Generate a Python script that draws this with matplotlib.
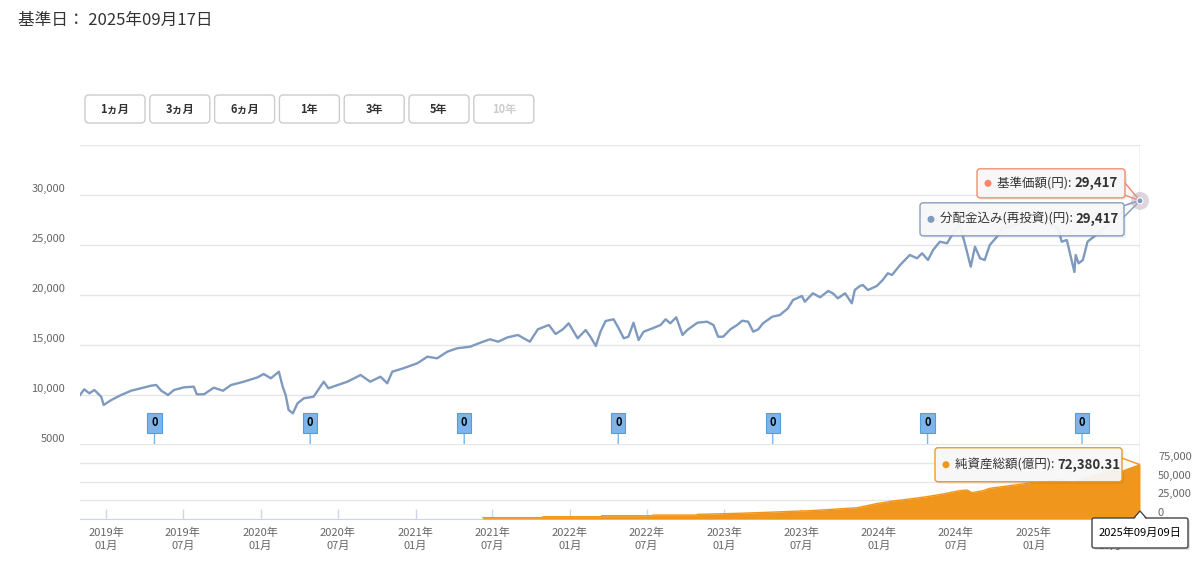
import matplotlib
matplotlib.use("Agg")
import matplotlib.pyplot as plt
import matplotlib.transforms as mtransforms
import matplotlib.dates as mdates
from matplotlib.patches import FancyBboxPatch, Polygon, Circle
from matplotlib.text import Annotation
import pandas as pd

plt.rcParams['font.family'] = ['Noto Sans CJK JP', 'DejaVu Sans']

# ---------------- data ----------------
base_date_text = "基準日： 2025年09月17日"
range_buttons = ["1ヵ月", "3ヵ月", "6ヵ月", "1年", "3年", "5年", "10年"]

nav_dates = [
    "2018-10-31", "2018-11-10", "2018-11-22", "2018-12-04", "2018-12-20", "2018-12-26",
    "2019-01-13", "2019-02-05", "2019-03-01", "2019-03-24", "2019-04-17", "2019-04-29",
    "2019-05-11", "2019-05-27", "2019-06-10", "2019-07-04", "2019-07-27", "2019-08-03",
    "2019-08-20", "2019-09-12", "2019-10-04", "2019-10-23", "2019-11-22", "2019-12-25",
    "2020-01-08", "2020-01-25", "2020-02-13", "2020-02-22", "2020-02-29", "2020-03-07",
    "2020-03-17", "2020-03-28", "2020-04-12", "2020-05-05", "2020-05-29", "2020-06-09",
    "2020-07-01", "2020-07-24", "2020-08-24", "2020-09-16", "2020-10-10", "2020-10-26",
    "2020-11-07", "2020-12-03", "2021-01-05", "2021-01-29", "2021-02-21", "2021-03-17",
    "2021-04-09", "2021-05-10", "2021-06-03", "2021-06-26",
    "2021-07-15", "2021-08-07", "2021-08-31", "2021-09-14", "2021-09-28", "2021-10-17",
    "2021-11-12", "2021-11-28", "2021-12-15", "2021-12-29", "2022-01-19", "2022-02-07",
    "2022-02-19", "2022-03-03", "2022-03-14", "2022-03-26", "2022-04-14", "2022-04-26",
    "2022-05-08", "2022-05-19", "2022-05-31", "2022-06-12", "2022-06-24", "2022-07-15",
    "2022-08-03", "2022-08-15", "2022-08-26", "2022-09-09", "2022-09-24", "2022-10-05",
    "2022-10-29", "2022-11-21", "2022-12-06", "2022-12-17", "2022-12-29", "2023-01-15",
    "2023-01-31", "2023-02-12", "2023-02-26", "2023-03-10", "2023-03-22", "2023-04-02",
    "2023-04-24", "2023-05-12", "2023-05-31", "2023-06-12", "2023-07-03", "2023-07-10",
    "2023-07-29", "2023-08-15", "2023-09-03", "2023-09-14", "2023-09-26", "2023-10-13",
    "2023-10-29", "2023-11-05", "2023-11-17", "2023-11-24", "2023-12-06", "2023-12-27",
    "2024-01-10", "2024-01-22", "2024-02-01", "2024-02-20", "2024-03-14", "2024-03-31",
    "2024-04-12", "2024-04-26", "2024-05-08", "2024-05-24", "2024-06-10", "2024-06-24",
    "2024-07-10", "2024-07-22", "2024-08-05", "2024-08-15", "2024-08-27", "2024-09-07",
    "2024-09-19", "2024-10-06", "2024-10-18", "2024-11-06", "2024-11-29", "2024-12-23",
    "2025-01-15", "2025-02-08", "2025-02-27", "2025-03-08", "2025-03-20", "2025-04-07",
    "2025-04-10", "2025-04-17", "2025-04-27", "2025-05-08", "2025-05-23", "2025-06-15",
    "2025-07-09", "2025-07-25", "2025-08-11", "2025-08-25", "2025-09-09",
]
nav_values = [
    10000, 10570, 10170, 10500, 9830, 9000,
    9500, 10000, 10430, 10670, 10930, 11000,
    10430, 10000, 10500, 10770, 10830, 10070,
    10070, 10730, 10430, 11000, 11330, 11770,
    12100, 11670, 12330, 10830, 10000, 8500,
    8170, 9170, 9670, 9830, 11330, 10670,
    11000, 11330, 12000, 11330, 11830, 11170,
    12330, 12670, 13170, 13830, 13670, 14330,
    14670, 14830, 15230, 15570,
    15330, 15770, 16000, 15670, 15330, 16570,
    17000, 16100, 16570, 17170, 15670, 16500,
    15770, 14900, 16330, 17400, 17570, 16670,
    15670, 15830, 17230, 15500, 16330, 16670,
    17000, 17570, 17170, 17770, 16000, 16500,
    17230, 17330, 17000, 15830, 15830, 16570,
    17000, 17430, 17330, 16330, 16570, 17170,
    17830, 18000, 18670, 19500, 19900, 19330,
    20170, 19770, 20400, 20170, 19670, 20170,
    19170, 20500, 20900, 21000, 20500, 20900,
    21500, 22170, 22000, 23000, 24000, 23670,
    24170, 23500, 24500, 25330, 25170, 26170,
    27000, 25170, 22830, 24830, 23670, 23500,
    25000, 25830, 26670, 26830, 27170, 27330,
    27500, 27170, 26670, 25330, 25500, 22300,
    24000, 23170, 23500, 25330, 25830, 26670,
    27500, 28170, 29000, 29230, 29417,
]

asset_dates = [
    "2021-06-09", "2021-10-28", "2021-10-29", "2022-03-16", "2022-03-17",
    "2022-07-15", "2022-07-16", "2022-10-27", "2022-10-28", "2023-01-30",
    "2023-04-11", "2023-07-29", "2023-11-10", "2023-12-30", "2024-02-03",
    "2024-03-14", "2024-04-23", "2024-05-31", "2024-07-10", "2024-07-27",
    "2024-08-08", "2024-09-03", "2024-09-19", "2024-10-29", "2024-12-06",
    "2025-01-08", "2025-03-04", "2025-04-08", "2025-04-20", "2025-06-06",
    "2025-07-30", "2025-09-09",
]
asset_values = [
    1800, 1800, 3100, 3100, 4400,
    4400, 5300, 5300, 6200, 7500,
    8900, 11300, 15000, 20900, 24000,
    26700, 29800, 33300, 37800, 38700,
    35100, 37800, 40900, 44000, 46700,
    49800, 52000, 49000, 53000, 60000,
    68000, 72380.31,
]

dividend_dates = ["2019-04-25", "2020-04-27", "2021-04-26", "2022-04-25",
                  "2023-04-25", "2024-04-25", "2025-04-25"]
dividend_values = [0, 0, 0, 0, 0, 0, 0]

nav_ticks = [5000, 10000, 15000, 20000, 25000, 30000, 35000]
nav_tick_labels = ["5000", "10,000", "15,000", "20,000", "25,000", "30,000", ""]
asset_ticks = [0, 25000, 50000, 75000, 100000]
asset_tick_labels = ["0", "25,000", "50,000", "75,000", ""]
x_tick_dates = ["2019-01-01", "2019-07-01", "2020-01-01", "2020-07-01", "2021-01-01",
                "2021-07-01", "2022-01-01", "2022-07-01", "2023-01-01", "2023-07-01",
                "2024-01-01", "2024-07-01", "2025-01-01", "2025-07-01"]
x_tick_labels = ["2019年\n01月", "2019年\n07月", "2020年\n01月", "2020年\n07月", "2021年\n01月",
                 "2021年\n07月", "2022年\n01月", "2022年\n07月", "2023年\n01月", "2023年\n07月",
                 "2024年\n01月", "2024年\n07月", "2025年\n01月", "2025年\n07月"]
x_start, x_end = "2018-10-31", "2025-09-09"

nav_label = "基準価額(円)"
reinv_label = "分配金込み(再投資)(円)"
asset_label = "純資産総額(億円)"
tooltip_date = "2025年09月09日"

# ---------------- style ----------------
LINE = "#7f9abf"
NAV_C = "#f4866a"
ORANGE = "#f0961c"
GRID = "#e6e6e6"
LABEL = "#666666"
TEXT = "#333333"

W, H = 1200, 564
fig = plt.figure(figsize=(12, 5.64), dpi=100)
fig.patch.set_facecolor("white")
PX = mtransforms.Affine2D().scale(1 / W, -1 / H).translate(0, 1) + fig.transFigure

nd = pd.to_datetime(nav_dates)
ad = pd.to_datetime(asset_dates)
dd = pd.to_datetime(dividend_dates)
xt = pd.to_datetime(x_tick_dates)
x0d, x1d = pd.Timestamp(x_start), pd.Timestamp(x_end)

ax = fig.add_axes([80 / W, 1 - 445 / H, 1060 / W, 300 / H])
ax2 = fig.add_axes([80 / W, 1 - 519 / H, 1060 / W, 75 / H], sharex=ax)

# upper panel
ax.plot(nd, nav_values, color=NAV_C, lw=0.6, zorder=3, solid_joinstyle="round")
ax.plot(nd, nav_values, color=LINE, lw=1.7, zorder=4, solid_joinstyle="round")
ax.set_xlim(x0d, x1d)
ax.set_ylim(5000, 35000)
ax.set_yticks(nav_ticks)
ax.grid(axis="y", color=GRID, lw=1)
ax.set_axisbelow(True)
ax.tick_params(axis="both", length=0, labelleft=False, labelbottom=False, bottom=False)
for s in ax.spines.values():
    s.set_visible(False)
ax.axvline(x1d, color="#cccccc", lw=1, zorder=2)

ytr = mtransforms.blended_transform_factory(ax.transAxes, ax.transData) + \
    mtransforms.ScaledTranslation(-15 / 100, 6 / 100, fig.dpi_scale_trans)
for v, s in zip(nav_ticks, nav_tick_labels):
    ax.text(0, v, s, transform=ytr, ha="right", va="center", fontsize=8,
            color=LABEL, clip_on=False)

# dividend flags
for d, v in zip(dd, dividend_values):
    ax.annotate(str(v), xy=(d, 5000), xytext=(0, 22), textcoords="offset pixels",
                ha="center", va="center", fontsize=8, fontweight="bold", color="black",
                bbox=dict(boxstyle="square,pad=0.35", fc="#7cb5ec", ec="#5b9ad8", lw=0.8),
                arrowprops=dict(arrowstyle="-", color="#7cb5ec", lw=1, shrinkA=0, shrinkB=0),
                zorder=5, annotation_clip=False)

# lower panel
ax2.fill_between(ad, 0, asset_values, color=ORANGE, lw=0, zorder=3)
ax2.plot(ad, asset_values, color=ORANGE, lw=1, zorder=3)
ax2.set_ylim(0, 100000)
ax2.set_yticks(asset_ticks)
ax2.grid(axis="y", color=GRID, lw=1)
ax2.set_axisbelow(True)
for k, s in ax2.spines.items():
    s.set_visible(k == "bottom")
ax2.spines["bottom"].set_color("#ccd6eb")
ax2.set_xticks(xt)
ax2.set_xticklabels(x_tick_labels)
ax2.tick_params(axis="x", direction="in", length=7.5, width=1, color="#ccd6eb",
                labelsize=8, labelcolor=LABEL, pad=6)
ax2.tick_params(axis="y", length=0, labelleft=False)
for lbl in ax2.get_xticklabels():
    lbl.set_linespacing(1.35)
ax2.axvline(x1d, color="#cccccc", lw=1, zorder=2)
ax2.set_xlim(x0d, x1d)

ytr2 = mtransforms.blended_transform_factory(ax2.transAxes, ax2.transData) + \
    mtransforms.ScaledTranslation(18 / 100, 6 / 100, fig.dpi_scale_trans)
for v, s in zip(asset_ticks, asset_tick_labels):
    ax2.text(1, v, s, transform=ytr2, ha="left", va="center", fontsize=8,
             color=LABEL, clip_on=False)

# ---------------- header ----------------
fig.text(18, 20, base_date_text, transform=PX, ha="left", va="center",
         fontsize=12, color=TEXT)

for i, b in enumerate(range_buttons):
    bx = 85 + i * 64.8
    fig.add_artist(FancyBboxPatch((bx, 95), 60, 28, boxstyle="round,pad=0,rounding_size=4",
                                  transform=PX, fc="white", ec="#cccccc", lw=1))
    fig.text(bx + 30, 109, b, transform=PX, ha="center", va="center", fontsize=8,
             fontweight="bold", color=("#cccccc" if i == len(range_buttons) - 1 else TEXT))


# ---------------- tooltips ----------------
def to_top(disp):
    return disp[0], H - disp[1]


px, py = to_top(ax.transData.transform((mdates.date2num(nd[-1]), nav_values[-1])))
qx, qy = to_top(ax2.transData.transform((mdates.date2num(ad[-1]), asset_values[-1])))
bx_, by_ = to_top(ax2.transAxes.transform((1, 0)))


def tooltip(x0, y0, x1, y1, edge, dot, label, value, base):
    yc = (y0 + y1) / 2
    fig.add_artist(FancyBboxPatch((x0 + 2, y0 + 2), x1 - x0, y1 - y0,
                                  boxstyle="round,pad=0,rounding_size=3", transform=PX,
                                  fc="black", ec="none", alpha=0.07, zorder=4))
    fig.add_artist(Polygon(base, closed=True, transform=PX, fc="#f8f8f8", ec=edge,
                           lw=1, zorder=5))
    fig.add_artist(FancyBboxPatch((x0, y0), x1 - x0, y1 - y0,
                                  boxstyle="round,pad=0,rounding_size=3", transform=PX,
                                  fc="#f8f8f8", ec=edge, lw=1, alpha=0.95, zorder=6))
    fig.add_artist(Circle((x0 + 11, yc), 3.5, transform=PX, fc=dot, ec="none", zorder=7))
    lbl = fig.text(x0 + 20, yc, label + ": ", transform=PX, ha="left", va="center",
                   fontsize=9, color=TEXT, zorder=7)
    val = Annotation(value, xy=(1, 0.5), xycoords=lbl, ha="left", va="center",
                     fontsize=9.5, fontweight="bold", color=TEXT, zorder=7)
    fig.add_artist(val)


nav_txt = f"{nav_values[-1]:,}"
# blue (reinvested) tooltip
b0 = (px - 220, py + 2, px - 16, py + 35)
tooltip(*b0, LINE, LINE, reinv_label, nav_txt,
        [(b0[2] - 1, b0[1] + 3), (b0[2] - 1, b0[1] + 15), (px, py)])
# salmon (NAV) tooltip
b1 = (px - 163, py - 32, px - 15, py - 3)
tooltip(*b1, NAV_C, NAV_C, nav_label, nav_txt,
        [(b1[2] - 1, b1[3] - 16), (b1[2] - 1, b1[3] - 3), (px, py)])
# net assets tooltip
b2 = (qx - 205, qy - 17, qx - 18, qy + 17)
tooltip(*b2, ORANGE, ORANGE, asset_label, f"{asset_values[-1]:,.2f}",
        [(b2[2] - 1, qy - 7), (b2[2] - 1, qy + 7), (qx, qy)])

# halo on hovered point
fig.add_artist(Circle((px, py), 9, transform=PX, fc="#b9a6b4", ec="none", alpha=0.45, zorder=8))
fig.add_artist(Circle((px, py), 3, transform=PX, fc=LINE, ec="white", lw=0.8, zorder=8))

# date tooltip on the x axis
d0 = (bx_ - 48, by_ - 1, bx_ + 48, by_ + 29)
fig.add_artist(FancyBboxPatch((d0[0] + 2, d0[1] + 2), 96, 30,
                              boxstyle="round,pad=0,rounding_size=2", transform=PX,
                              fc="black", ec="none", alpha=0.12, zorder=4))
fig.add_artist(Polygon([(bx_ - 7, d0[1] + 1), (bx_, d0[1] - 7), (bx_ + 7, d0[1] + 1)],
                       closed=True, transform=PX, fc="white", ec="#444444", lw=1, zorder=5))
fig.add_artist(FancyBboxPatch((d0[0], d0[1]), 96, 30,
                              boxstyle="round,pad=0,rounding_size=2", transform=PX,
                              fc="white", ec="#444444", lw=1, zorder=6))
fig.add_artist(Polygon([(bx_ - 6, d0[1] + 1.5), (bx_, d0[1] - 5.5), (bx_ + 6, d0[1] + 1.5)],
                       closed=True, transform=PX, fc="white", ec="none", zorder=6.5))
fig.text(bx_, d0[1] + 15, tooltip_date, transform=PX, ha="center", va="center",
         fontsize=8, color="black", zorder=7)

fig.savefig("out.png", dpi=100)
